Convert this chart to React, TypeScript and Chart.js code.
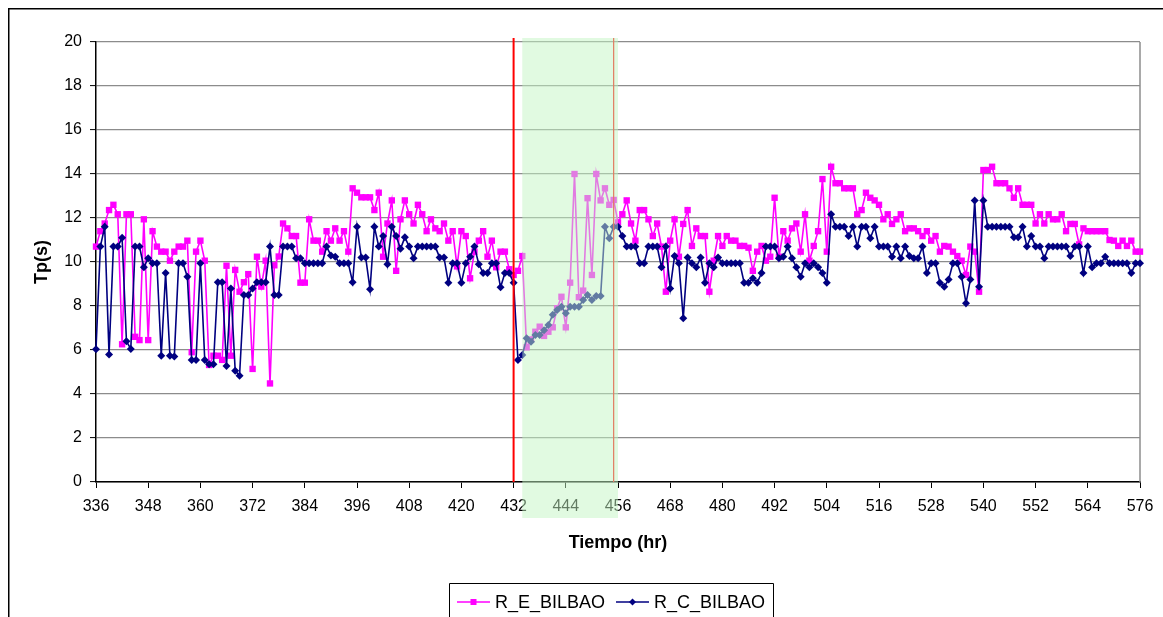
import React, { useEffect, useRef } from "react";
import { Chart, registerables } from "chart.js";

Chart.register(...registerables);

const FONT = "'Liberation Sans', Arial, sans-serif";

// Hours 336..576 (one value per hour)
const START_HOUR = 336;
const X_MIN = 336;
const X_MAX = 576;
const X_STEP = 12;
const Y_MIN = 0;
const Y_MAX = 20;
const Y_STEP = 2;

const SERIES_E_NAME = "R_E_BILBAO";
const SERIES_C_NAME = "R_C_BILBAO";

const seriesE = [
  10.7, 11.4, 11.75, 12.36, 12.6, 12.17, 6.26, 12.17, 12.17, 6.6, 6.45, 11.94,
  6.45, 11.4, 10.7, 10.47, 10.47, 10.06, 10.47, 10.7, 10.7, 10.97, 5.9, 10.47,
  10.97, 10.06, 5.32, 5.74, 5.74, 5.55, 9.83, 5.74, 9.64, 8.65, 9.08, 9.45,
  5.14, 10.24, 8.88, 10.06, 4.48, 9.85, 10.25, 11.75, 11.53, 11.18, 11.18, 9.06,
  9.06, 11.94, 10.97, 10.97, 10.47, 11.4, 10.97, 11.53, 10.97, 11.4, 10.47, 13.35,
  13.15, 12.94, 12.94, 12.94, 12.36, 13.15, 10.24, 11.75, 12.8, 9.6, 11.94, 12.8,
  12.17, 11.75, 12.6, 12.17, 11.4, 11.94, 11.53, 11.4, 11.75, 10.97, 11.4, 9.8,
  11.4, 11.18, 9.26, 10.47, 10.97, 11.4, 10.24, 10.97, 9.76, 10.47, 10.47, 9.67,
  9.41, 9.6, 10.27, 6.12, 6.48, 6.83, 7.06, 6.64, 6.83, 7.03, 7.9, 8.42,
  7.03, 9.06, 14.0, 8.4, 8.7, 12.9, 9.41, 14.0, 12.8, 13.35, 12.6, 12.82,
  11.8, 12.17, 12.8, 11.75, 10.97, 12.36, 12.36, 11.94, 11.18, 11.75, 10.7, 8.65,
  10.97, 11.94, 10.24, 11.73, 12.36, 10.73, 11.53, 11.18, 11.18, 8.65, 10.06, 11.18,
  10.73, 11.18, 10.97, 10.97, 10.73, 10.73, 10.65, 9.6, 10.47, 10.73, 10.06, 10.24,
  12.92, 10.24, 11.4, 10.97, 11.53, 11.75, 10.47, 12.17, 10.06, 10.73, 11.4, 13.77,
  10.47, 14.33, 13.58, 13.58, 13.35, 13.35, 13.35, 12.17, 12.36, 13.15, 12.92, 12.8,
  12.6, 11.94, 12.17, 11.73, 11.94, 12.17, 11.4, 11.53, 11.53, 11.4, 11.18, 11.4,
  10.97, 11.18, 10.47, 10.73, 10.7, 10.47, 10.27, 10.06, 9.41, 10.7, 10.47, 8.65,
  14.18, 14.18, 14.33, 13.58, 13.58, 13.58, 13.35, 12.92, 13.35, 12.6, 12.6, 12.6,
  11.75, 12.17, 11.75, 12.17, 11.94, 11.94, 12.17, 11.4, 11.73, 11.73, 10.8, 11.53,
  11.4, 11.4, 11.4, 11.4, 11.4, 11.0, 10.97, 10.73, 10.97, 10.73, 10.97, 10.47,
  10.47,
];

const seriesC = [
  6.03, 10.7, 11.6, 5.8, 10.7, 10.7, 11.1, 6.4, 6.05, 10.7, 10.7, 9.76,
  10.17, 9.94, 9.94, 5.74, 9.5, 5.74, 5.7, 9.94, 9.94, 9.33, 5.55, 5.55,
  9.94, 5.55, 5.35, 5.35, 9.08, 9.08, 5.27, 8.8, 5.06, 4.83, 8.5, 8.5,
  8.8, 9.08, 9.08, 9.08, 10.7, 8.5, 8.5, 10.7, 10.7, 10.7, 10.17, 10.17,
  9.94, 9.94, 9.94, 9.94, 9.94, 10.7, 10.3, 10.24, 9.94, 9.94, 9.94, 9.08,
  11.6, 10.2, 10.2, 8.76, 11.6, 10.7, 11.18, 9.9, 11.6, 11.18, 10.6, 11.12,
  10.7, 10.17, 10.7, 10.7, 10.7, 10.7, 10.7, 10.2, 10.2, 9.06, 9.94, 9.94,
  9.06, 9.94, 10.24, 10.7, 9.9, 9.5, 9.5, 9.94, 9.94, 8.85, 9.5, 9.5,
  9.06, 5.55, 5.77, 6.53, 6.38, 6.68, 6.68, 6.9, 7.14, 7.6, 7.82, 7.97,
  7.67, 7.97, 7.97, 7.97, 8.27, 8.5, 8.27, 8.45, 8.45, 11.6, 11.08, 11.6,
  11.6, 11.18, 10.7, 10.7, 10.7, 9.94, 9.94, 10.7, 10.7, 10.7, 9.76, 10.7,
  8.8, 10.27, 9.94, 7.44, 10.2, 9.94, 9.76, 10.2, 9.06, 9.94, 9.76, 10.2,
  9.94, 9.94, 9.94, 9.94, 9.94, 9.06, 9.06, 9.26, 9.06, 9.5, 10.7, 10.7,
  10.7, 10.17, 10.24, 10.7, 10.17, 9.76, 9.33, 9.94, 9.76, 9.94, 9.76, 9.5,
  9.06, 12.17, 11.6, 11.6, 11.6, 11.18, 11.6, 10.7, 11.6, 11.6, 11.08, 11.6,
  10.7, 10.7, 10.7, 10.24, 10.7, 10.17, 10.7, 10.27, 10.17, 10.17, 10.7, 9.5,
  9.94, 9.94, 9.06, 8.88, 9.2, 9.94, 9.94, 9.33, 8.12, 9.2, 12.79, 8.88,
  12.79, 11.6, 11.6, 11.6, 11.6, 11.6, 11.6, 11.12, 11.12, 11.6, 10.7, 11.18,
  10.7, 10.7, 10.17, 10.7, 10.7, 10.7, 10.7, 10.7, 10.27, 10.7, 10.7, 9.5,
  10.7, 9.76, 9.94, 9.94, 10.24, 9.94, 9.94, 9.94, 9.94, 9.94, 9.5, 9.94,
  9.94,
];

const hours = seriesE.map((_, i) => START_HOUR + i);

// Event markers (hours)
const eventLineHour = 432;
const shadeStartHour = 434;
const shadeEndHour = 456;
const shadeLineHour = 455;

const COLOR_E = "#ff00ff";
const COLOR_C = "#000080";

const overlayPlugin = {
  id: "overlay",
  beforeDatasetsDraw(chart: any) {
    const { ctx, chartArea } = chart;
    ctx.save();
    ctx.strokeStyle = "#8c8c8c";
    ctx.lineWidth = 1.5;
    ctx.beginPath();
    ctx.moveTo(chartArea.right, chartArea.top);
    ctx.lineTo(chartArea.right, chartArea.bottom);
    ctx.stroke();
    ctx.restore();
  },
  afterDatasetsDraw(chart: any) {
    const { ctx, chartArea } = chart;
    const x = chart.scales.x;
    ctx.save();
    const top = chartArea.top - 4;
    ctx.strokeStyle = "#ff0000";
    ctx.lineWidth = 2;
    let px = x.getPixelForValue(eventLineHour);
    ctx.beginPath();
    ctx.moveTo(px, top);
    ctx.lineTo(px, chartArea.bottom);
    ctx.stroke();
    ctx.lineWidth = 1.2;
    px = x.getPixelForValue(shadeLineHour);
    ctx.beginPath();
    ctx.moveTo(px, top);
    ctx.lineTo(px, chartArea.bottom);
    ctx.stroke();
    const x0 = x.getPixelForValue(shadeStartHour);
    const x1 = x.getPixelForValue(shadeEndHour);
    ctx.fillStyle = "rgba(195,245,195,0.5)";
    ctx.fillRect(x0, top, x1 - x0, chartArea.bottom + 36 - top);
    ctx.restore();
  },
  afterDraw(chart: any) {
    const { ctx } = chart;
    ctx.save();
    // outer frame
    ctx.strokeStyle = "#000";
    ctx.lineWidth = 1.5;
    ctx.beginPath();
    ctx.moveTo(0.75, chart.height + 5);
    ctx.lineTo(0.75, 0.75);
    ctx.lineTo(chart.width + 5, 0.75);
    ctx.stroke();

    // legend box
    const bx = 441.5;
    const by = 575.5;
    const bw = 324;
    ctx.lineWidth = 1;
    ctx.beginPath();
    ctx.moveTo(bx, chart.height + 5);
    ctx.lineTo(bx, by);
    ctx.lineTo(bx + bw, by);
    ctx.lineTo(bx + bw, chart.height + 5);
    ctx.stroke();

    const ly = 594;
    ctx.font = `18px ${FONT}`;
    ctx.textBaseline = "middle";
    ctx.textAlign = "left";
    // E entry
    ctx.strokeStyle = COLOR_E;
    ctx.lineWidth = 1.5;
    ctx.beginPath();
    ctx.moveTo(449, ly);
    ctx.lineTo(482, ly);
    ctx.stroke();
    ctx.fillStyle = COLOR_E;
    ctx.fillRect(462.5, ly - 3, 6, 6);
    ctx.fillStyle = "#000";
    ctx.fillText(SERIES_E_NAME, 487, ly + 1);
    // C entry
    ctx.strokeStyle = COLOR_C;
    ctx.beginPath();
    ctx.moveTo(608, ly);
    ctx.lineTo(641, ly);
    ctx.stroke();
    ctx.fillStyle = COLOR_C;
    ctx.beginPath();
    ctx.moveTo(624.5, ly - 3.5);
    ctx.lineTo(628, ly);
    ctx.lineTo(624.5, ly + 3.5);
    ctx.lineTo(621, ly);
    ctx.closePath();
    ctx.fill();
    ctx.fillStyle = "#000";
    ctx.fillText(SERIES_C_NAME, 646, ly + 1);
    ctx.restore();
  },
};

export default function App() {
  const canvasRef = useRef<HTMLCanvasElement | null>(null);

  useEffect(() => {
    if (!canvasRef.current) return;
    const chart = new Chart(canvasRef.current, {
      type: "line",
      data: {
        datasets: [
          {
            label: SERIES_E_NAME,
            data: hours.map((h, i) => ({ x: h, y: seriesE[i] })),
            borderColor: COLOR_E,
            backgroundColor: COLOR_E,
            borderWidth: 1.6,
            pointStyle: "rect",
            pointRadius: 4.5,
            pointBorderWidth: 0,
            tension: 0,
            clip: false as any,
            order: 1,
          },
          {
            label: SERIES_C_NAME,
            data: hours.map((h, i) => ({ x: h, y: seriesC[i] })),
            borderColor: COLOR_C,
            backgroundColor: COLOR_C,
            borderWidth: 1.6,
            pointStyle: "rectRot",
            pointRadius: 4,
            pointBorderWidth: 0,
            tension: 0,
            clip: false as any,
            order: 0,
          },
        ],
      },
      options: {
        animation: false,
        responsive: false,
        devicePixelRatio: 1,
        layout: { padding: { left: 23, top: 34, right: 23, bottom: 63 } },
        plugins: {
          legend: { display: false },
          tooltip: { enabled: false },
        },
        scales: {
          x: {
            type: "linear",
            min: X_MIN,
            max: X_MAX,
            ticks: {
              stepSize: X_STEP,
              color: "#000",
              font: { family: FONT, size: 16 },
              padding: 9,
              maxRotation: 0,
              autoSkip: false,
            },
            grid: {
              drawOnChartArea: false,
              tickLength: 6,
              tickColor: "#000",
            },
            border: { color: "#000", width: 1.5 },
            title: {
              display: true,
              text: "Tiempo (hr)",
              color: "#000",
              font: { family: FONT, size: 18, weight: "bold" },
              padding: 0,
            },
            afterFit: (s: any) => {
              s.height = 72;
            },
          },
          y: {
            min: Y_MIN,
            max: Y_MAX,
            ticks: {
              stepSize: Y_STEP,
              color: "#000",
              font: { family: FONT, size: 16 },
              padding: 8,
            },
            grid: {
              color: "#8c8c8c",
              lineWidth: 1.2,
              tickLength: 6,
              tickColor: "#000",
              tickWidth: 1,
            },
            border: { color: "#000", width: 1.5 },
            title: {
              display: true,
              text: "Tp(s)",
              color: "#000",
              font: { family: FONT, size: 18, weight: "bold" },
              padding: 0,
            },
            afterFit: (s: any) => {
              s.width = 65;
            },
          },
        },
      },
      plugins: [overlayPlugin],
    });
    return () => chart.destroy();
  }, []);

  return (
    <div style={{ position: "fixed", left: 8, top: 8, width: 1155, height: 609 }}>
      <canvas ref={canvasRef} width={1155} height={609} style={{ display: "block" }} />
    </div>
  );
}
